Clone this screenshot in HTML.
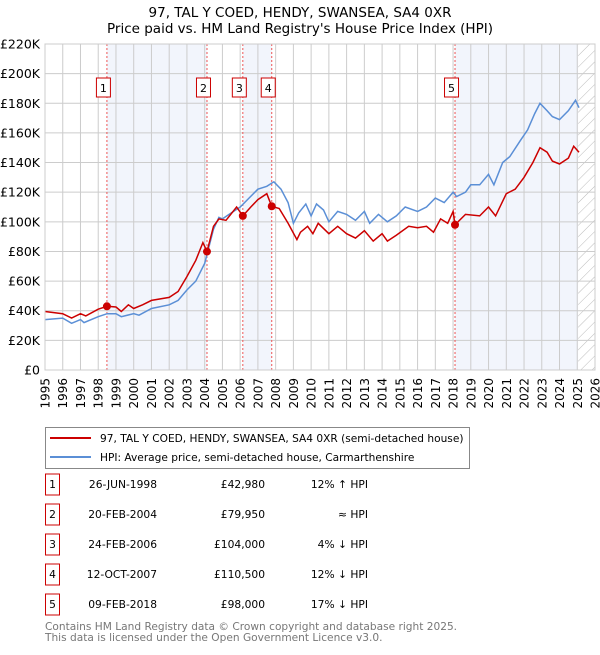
<!DOCTYPE html>
<html><head><meta charset="utf-8"><style>
body{margin:0;background:#fff;font-family:"Liberation Sans","DejaVu Sans",sans-serif;}
svg text{font-family:"DejaVu Sans","Liberation Sans",sans-serif;}
</style></head><body>
<svg id="c" width="600" height="650" xmlns="http://www.w3.org/2000/svg"></svg>
<script>
const hpiYears=[1995,1996,1996.5,1997,1997.2,1998,1998.5,1999,1999.3,2000,2000.3,2001,2002,2002.5,2003,2003.5,2004,2004.5,2004.8,2005,2005.5,2006,2006.5,2007,2007.5,2007.9,2008.3,2008.7,2009,2009.3,2009.7,2010,2010.3,2010.7,2011,2011.5,2012,2012.5,2013,2013.3,2013.8,2014.3,2014.8,2015.3,2016,2016.5,2017,2017.5,2018,2018.2,2018.7,2019,2019.5,2020,2020.3,2020.8,2021.2,2021.8,2022.2,2022.6,2022.9,2023.3,2023.6,2024,2024.5,2024.9,2025.1];
const hpiValues=[34,35,31.5,34,32,36,38,38,36,38,37,41.5,44,47,54,60,72,95,103,102,106,110,116,122,124,127,122,113,99,106,112,104,112,108,100,107,105,101,107,99,105,100,104,110,107,110,116,113,120,117,120,125,125,132,125,140,144,155,162,173,180,175,171,169,175,182,177];
const priceYears=[1995,1996,1996.5,1997,1997.3,1998,1998.5,1999,1999.3,1999.7,2000,2000.5,2001,2002,2002.5,2003,2003.5,2003.9,2004.13,2004.5,2004.8,2005.2,2005.8,2006.15,2006.6,2007,2007.5,2007.78,2008.2,2008.7,2009.2,2009.4,2009.8,2010.1,2010.4,2011,2011.5,2012,2012.5,2013,2013.5,2014,2014.3,2014.8,2015.5,2016,2016.5,2016.9,2017.3,2017.7,2018.0,2018.11,2018.7,2019.5,2020,2020.4,2021,2021.5,2022,2022.5,2022.9,2023.3,2023.6,2024,2024.5,2024.8,2025.1];
const priceValues=[39.5,38,35,38,36.5,41,43,42.5,39.5,44,41.5,44,47,49,53,63,74,86,80,97,102,101,110,104,110,115,119,110.5,109,99,88,93,97,92,99,92,97,92,89,94,87,92,87,91,97,96,97,93,102,99,107,98,105,104,110,104,119,122,130,140,150,147,141,139,143,151,147];
const saleYears=[1998.49,2004.13,2006.15,2007.78,2018.11];
const salePrices=[42.98,79.95,104,110.5,98];
const saleLabels=["1","2","3","4","5"];
const yTicks=[0,20,40,60,80,100,120,140,160,180,200,220];
const xTicks=[1995,1996,1997,1998,1999,2000,2001,2002,2003,2004,2005,2006,2007,2008,2009,2010,2011,2012,2013,2014,2015,2016,2017,2018,2019,2020,2021,2022,2023,2024,2025,2026];
const tableDates=["26-JUN-1998","20-FEB-2004","24-FEB-2006","12-OCT-2007","09-FEB-2018"];
const tablePrices=["£42,980","£79,950","£104,000","£110,500","£98,000"];
const tableHpi=["12% ↑ HPI","≈ HPI","4% ↓ HPI","12% ↓ HPI","17% ↓ HPI"];

const L=45,R=595,T=44,B=370;
const X=y=>L+(y-1995)*(R-L)/31;
const Y=v=>B-v*(B-T)/220;
const svg=document.getElementById('c');
const NS="http://www.w3.org/2000/svg";
function mk(tag,attrs,parent){const e=document.createElementNS(NS,tag);for(const k in attrs)e.setAttribute(k,attrs[k]);(parent||svg).appendChild(e);return e;}

let t=mk('text',{x:300,y:17,'text-anchor':'middle','font-size':13.5,fill:'#000'});t.textContent="97, TAL Y COED, HENDY, SWANSEA, SA4 0XR";

t=mk('text',{x:300,y:33,'text-anchor':'middle','font-size':13.5,fill:'#000'});t.textContent="Price paid vs. HM Land Registry's House Price Index (HPI)";


const defs=mk('defs',{});
const pat=mk('pattern',{id:'h',width:8,height:8,patternUnits:'userSpaceOnUse',patternTransform:'rotate(45)'},defs);
mk('line',{x1:0,y1:0,x2:0,y2:8,stroke:'#bbb','stroke-width':1},pat);

const shades=[[saleYears[0],saleYears[1]],[saleYears[2],saleYears[3]],[saleYears[4],2025.05]];
shades.forEach(s=>{const r=mk('rect',{x:X(s[0]),y:T,width:X(s[1])-X(s[0]),height:B-T,fill:'#edf2fb',opacity:0.75});
});
let hr=mk('rect',{x:X(2025.05),y:T,width:R-X(2025.05),height:B-T,fill:'url(#h)'});


xTicks.forEach(y=>{const l=mk('line',{x1:X(y),x2:X(y),y1:T,y2:B,stroke:'#ccc','stroke-width':1});

const tx=mk('text',{transform:`translate(${X(y)+4.5},${B+8}) rotate(-90)`,'text-anchor':'end','font-size':12,fill:'#000'});tx.textContent=y;
});
yTicks.forEach(v=>{const l=mk('line',{x1:L,x2:R,y1:Y(v),y2:Y(v),stroke:'#ccc','stroke-width':1});

const tx=mk('text',{x:40,y:Y(v)+4.5,'text-anchor':'end','font-size':12.5,fill:'#000'});tx.textContent=v===0?'£0':'£'+v+'K';
});

saleYears.forEach(y=>{const l=mk('line',{x1:X(y),x2:X(y),y1:T,y2:B,stroke:'#e55','stroke-width':1,'stroke-dasharray':'2,2'});
});

const pts=(xs,vs)=>xs.map((y,i)=>X(y).toFixed(1)+','+Y(vs[i]).toFixed(1)).join(' ');
let p=mk('polyline',{points:pts(hpiYears,hpiValues),fill:'none',stroke:'#5b8fd6','stroke-width':1.5});

p=mk('polyline',{points:pts(priceYears,priceValues),fill:'none',stroke:'#cc0000','stroke-width':1.5});


saleYears.forEach((y,i)=>{const c=mk('circle',{cx:X(y),cy:Y(salePrices[i]),r:4,fill:'#cc0000'});

const bx=X(y)-10.5;
const r=mk('rect',{x:bx,y:78,width:14,height:19,fill:'#fff',stroke:'#cc0000','stroke-width':1});

const tx=mk('text',{x:bx+7,y:92,'text-anchor':'middle','font-size':11,fill:'#000'});tx.textContent=saleLabels[i];
});

let fr=mk('rect',{x:L,y:T,width:R-L,height:B-T,fill:'none',stroke:'#ccc'});


const lg=mk('g',{});
mk('rect',{x:45.5,y:427.5,width:424,height:41,fill:'#fff',stroke:'#888'},lg);
let ll=mk('line',{x1:50,x2:91,y1:438,y2:438,stroke:'#cc0000','stroke-width':2},lg);

t=mk('text',{x:100,y:442,'font-size':10.6,fill:'#000'},lg);t.textContent="97, TAL Y COED, HENDY, SWANSEA, SA4 0XR (semi-detached house)";
ll=mk('line',{x1:50,x2:91,y1:457,y2:457,stroke:'#5b8fd6','stroke-width':2},lg);

t=mk('text',{x:100,y:461,'font-size':10.6,fill:'#000'},lg);t.textContent="HPI: Average price, semi-detached house, Carmarthenshire";

saleLabels.forEach((s,i)=>{const y=483+i*30;
const g=mk('g',{});
mk('rect',{x:45.5,y:y-9,width:14,height:21,fill:'#fff',stroke:'#cc0000'},g);
let a=mk('text',{x:52.5,y:y+5,'text-anchor':'middle','font-size':10.7},g);a.textContent=s;
a=mk('text',{x:157,y:y+5,'text-anchor':'end','font-size':10.7},g);a.textContent=tableDates[i];
a=mk('text',{x:265,y:y+5,'text-anchor':'end','font-size':10.7},g);a.textContent=tablePrices[i];
a=mk('text',{x:368,y:y+5,'text-anchor':'end','font-size':10.7},g);a.textContent=tableHpi[i];});

t=mk('text',{x:45,y:630,'font-size':10.6,fill:'#777'});t.textContent="Contains HM Land Registry data © Crown copyright and database right 2025.";

t=mk('text',{x:45,y:641,'font-size':10.6,fill:'#777'});t.textContent="This data is licensed under the Open Government Licence v3.0.";

</script>
</body></html>
